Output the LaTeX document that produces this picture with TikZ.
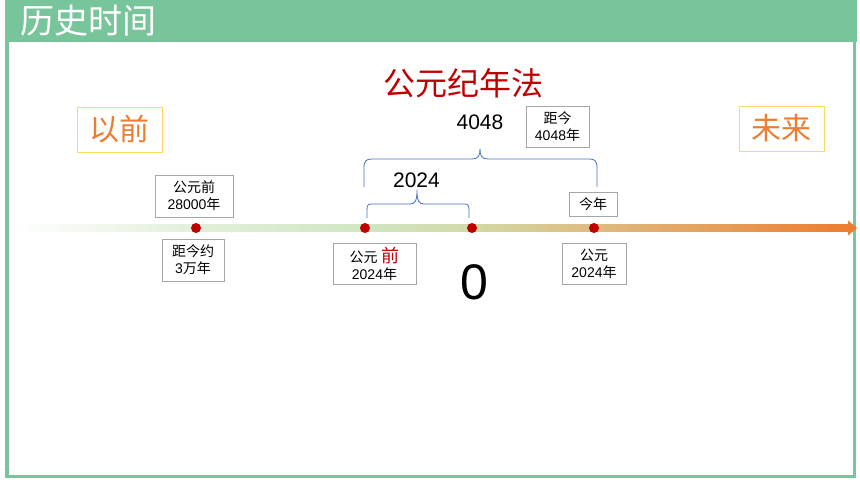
\documentclass[tikz,border=0pt]{standalone}
\usepackage{fontspec}
\setmainfont{Liberation Sans}
\newfontfamily\cjk{Noto Sans CJK SC}
\newcommand\zh[1]{{\cjk #1}}
\definecolor{framegreen}{HTML}{78C59B}
\definecolor{boxgrey}{HTML}{A6A6A6}
\definecolor{darkred}{HTML}{C00000}
\definecolor{orng}{HTML}{ED7D31}
\definecolor{ylw}{HTML}{FFD966}
\definecolor{braceblue}{HTML}{4472C4}
\definecolor{tlA}{HTML}{E2EFDA}
\definecolor{tlB}{HTML}{D0E6C2}
\definecolor{tlC}{HTML}{D2D9A6}
\definecolor{tlD}{HTML}{DEBC80}
\definecolor{tlE}{HTML}{ED7D31}
\tikzset{
  greybox/.style={draw=boxgrey, line width=0.8pt, inner sep=0pt, align=center,
    font=\fontsize{14}{17}\selectfont},
  ylwbox/.style={draw=ylw, line width=0.9pt, inner sep=0pt, minimum width=85pt,
    minimum height=45pt, text=orng, font=\cjk\fontsize{30}{32}\selectfont},
  reddot/.style={circle, fill=darkred, inner sep=0pt, minimum size=10pt},
  bracepath/.style={draw=braceblue, line width=0.8pt},
  numtext/.style={inner sep=0pt, font=\fontsize{21}{24}\selectfont}
}
\begin{document}
\begin{tikzpicture}[x=1pt,y=-1pt]
\useasboundingbox (0,0) rectangle (860,484);
\fill[white] (0,0) rectangle (860,484);
% frame
\draw[framegreen, line width=3.5pt] (6.75,40) -- (6.75,476.25) -- (854.5,476.25) -- (854.5,40);
\fill[framegreen] (5,0) rectangle (857,42);
\node[anchor=west, inner sep=0pt, text=white, font=\cjk\fontsize{34}{36}\selectfont] (title) at (20,21) {历史时间};
% timeline
\shade[left color=white, right color=tlA] (10,224.5) rectangle (196,231.5);
\shade[left color=tlA, right color=tlB] (196,224.5) rectangle (365,231.5);
\shade[left color=tlB, right color=tlC] (365,224.5) rectangle (472,231.5);
\shade[left color=tlC, right color=tlD] (472,224.5) rectangle (594,231.5);
\shade[left color=tlD, right color=tlE] (594,224.5) rectangle (848.5,231.5);
\coordinate (tip) at (857,228);
\fill[tlE] (848,220.5) -- (tip) -- (848,235.5) -- cycle;
% dots
\node[reddot] (d1) at (196,228) {};
\node[reddot] (d2) at (365,228) {};
\node[reddot] (d3) at (472,228) {};
\node[reddot] (d4) at (594,228) {};
% title
\node[inner sep=0pt, text=darkred, font=\cjk\fontsize{32}{34}\selectfont] (gy) at (463,83) {公元纪年法};
% side labels
\node[ylwbox] (before) at (119.5,129.5) {以前};
\node[ylwbox] (future) at (781.5,128.5) {未来};
% boxes
\node[greybox, minimum width=78pt, minimum height=42pt] (b1) at (194,196) {\zh{公元前}\\28000\zh{年}};
\node[greybox, minimum width=62pt, minimum height=42pt] (b2) at (193,260) {\zh{距今约}\\3\zh{万年}};
\node[greybox, minimum width=83pt, minimum height=41pt] (b3) at (374.5,263.5) {\zh{公元} {\cjk\fontsize{18}{17}\selectfont\textcolor{darkred}{前}}\\2024\zh{年}};
\node[greybox, minimum width=48pt, minimum height=24pt] (b4) at (593,204) {\zh{今年}};
\node[greybox, minimum width=64pt, minimum height=41pt] (b5) at (594,263.5) {\zh{公元}\\2024\zh{年}};
\node[greybox, minimum width=63pt, minimum height=41pt] (b6) at (557.5,126.5) {\zh{距今}\\4048\zh{年}};
% numbers
\node[numtext] (n4048) at (480,122.5) {4048};
\node[numtext] (n2024) at (416.5,180.5) {2024};
\node[inner sep=0pt, font=\fontsize{50}{52}\selectfont] (zero) at (474,282) {0};
% big brace
\coordinate (bbL) at (364,187);
\coordinate (bbR) at (597,187);
\coordinate (bbT) at (480,149);
\draw[bracepath] (bbL) -- (364,168) .. controls (364,161) and (366,159) .. (372,159)
  -- (472,159) .. controls (478,159) and (480,156) .. (bbT)
  .. controls (480,156) and (482,159) .. (488,159) -- (589,159)
  .. controls (595,159) and (597,161) .. (597,168) -- (bbR);
% small brace
\coordinate (sbL) at (367,218);
\coordinate (sbR) at (469,218);
\coordinate (sbT) at (417,190);
\draw[bracepath] (sbL) -- (367,210) .. controls (367,205) and (368,204) .. (372,204)
  -- (410,204) .. controls (415,204) and (417,201) .. (sbT)
  .. controls (417,201) and (419,204) .. (424,204) -- (464,204)
  .. controls (468,204) and (469,205) .. (469,210) -- (sbR);
\end{tikzpicture}
\end{document}
